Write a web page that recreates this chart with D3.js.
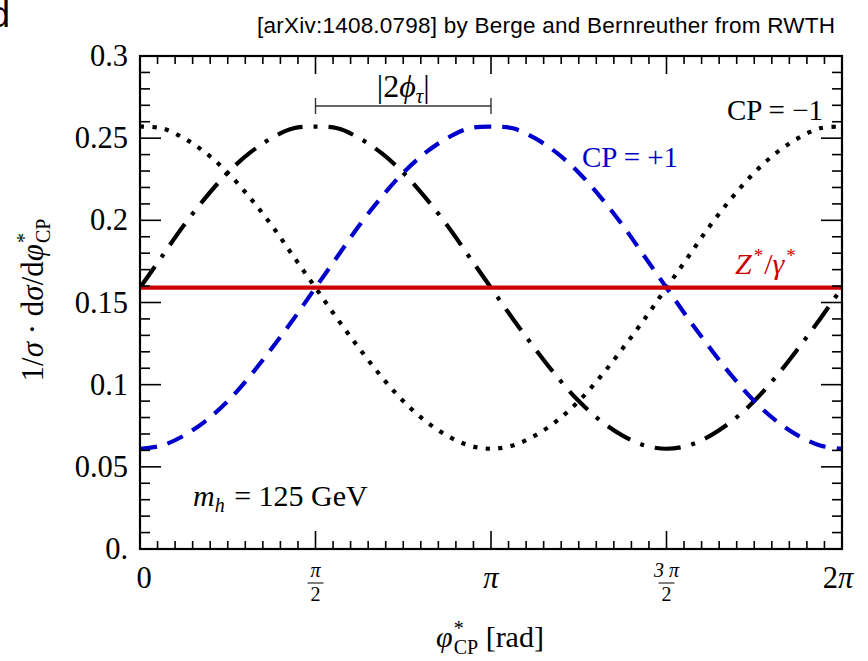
<!DOCTYPE html>
<html>
<head>
<meta charset="utf-8">
<script src="https://cdn.jsdelivr.net/npm/d3@7"></script>
<style>
  html, body { margin: 0; padding: 0; background: #fff; }
  svg { display: block; font-family: "Liberation Serif", "Times New Roman", serif; }
  .sans { font-family: "Liberation Sans", Arial, sans-serif; }
</style>
</head>
<body>
<svg id="chart" width="868" height="661"></svg>
<script>
// Normalised φ*_CP distributions sampled every π/16 on [0, 2π]
const PI = Math.PI;
const sampleCount = 33;
const cpMinus = [0.257, 0.256, 0.250, 0.241, 0.229, 0.214, 0.197, 0.178, 0.159, 0.140, 0.122, 0.105, 0.090, 0.078, 0.069, 0.063, 0.061,
                 0.063, 0.069, 0.078, 0.090, 0.105, 0.122, 0.140, 0.159, 0.178, 0.197, 0.214, 0.229, 0.241, 0.250, 0.256, 0.257];
const cpPlus  = [0.061, 0.063, 0.069, 0.078, 0.090, 0.105, 0.122, 0.140, 0.159, 0.178, 0.197, 0.214, 0.229, 0.241, 0.250, 0.256, 0.257,
                 0.256, 0.250, 0.241, 0.229, 0.214, 0.197, 0.178, 0.159, 0.140, 0.122, 0.105, 0.090, 0.078, 0.069, 0.063, 0.061];
const cpMixed = [0.159, 0.178, 0.197, 0.214, 0.229, 0.241, 0.250, 0.256, 0.257, 0.256, 0.250, 0.241, 0.229, 0.214, 0.197, 0.178, 0.159,
                 0.140, 0.122, 0.105, 0.090, 0.078, 0.069, 0.063, 0.061, 0.063, 0.069, 0.078, 0.090, 0.105, 0.122, 0.140, 0.159];
const zGamma = [0.159, 0.159];
const zGammaX = [0, 2 * PI];

const yTickValues = [0, 0.05, 0.1, 0.15, 0.2, 0.25, 0.3];
const yTickLabels = ["0.", "0.05", "0.1", "0.15", "0.2", "0.25", "0.3"];
const xTickValues = [0, PI / 2, PI, 3 * PI / 2, 2 * PI];
const xTickLabels = [{pre: "0", sym: ""}, {num: "π", den: "2"}, {pre: "", sym: "π"}, {num: "3 π", den: "2"}, {pre: "2", sym: "π"}];

const svg = d3.select("#chart");
const L = 140, R = 842, T = 56, B = 549;
const x = d3.scaleLinear().domain([0, 2 * PI]).range([L, R]);
const y = d3.scaleLinear().domain([0, 0.3]).range([B, T]);
const xs = d3.range(sampleCount).map(k => k * PI / 16);

svg.append("defs").append("clipPath").attr("id", "plot")
  .append("rect").attr("x", L).attr("y", T).attr("width", R - L).attr("height", B - T);

const line = d3.line().x(d => x(d[0])).y(d => y(d[1])).curve(d3.curveCatmullRom.alpha(0.5));
const plot = svg.append("g").attr("clip-path", "url(#plot)");

plot.append("path").datum(d3.zip(xs, cpMixed)).attr("d", line)
  .attr("fill", "none").attr("stroke", "#000").attr("stroke-width", 4.2)
  .attr("stroke-dasharray", "26,11,4,11");
plot.append("path").datum(d3.zip(xs, cpMinus)).attr("d", line)
  .attr("fill", "none").attr("stroke", "#000").attr("stroke-width", 4.2)
  .attr("stroke-dasharray", "4.2,8.3");
plot.append("path").datum(d3.zip(xs, cpPlus)).attr("d", line)
  .attr("fill", "none").attr("stroke", "#0000cc").attr("stroke-width", 4.2)
  .attr("stroke-dasharray", "17,11");
plot.append("path").datum(d3.zip(zGammaX, zGamma)).attr("d", d3.line().x(d => x(d[0])).y(d => y(d[1])))
  .attr("fill", "none").attr("stroke", "#cc0000").attr("stroke-width", 4.2);

// Frame ticks on all four sides, pointing inward
const ax = svg.append("g").attr("stroke", "#000").attr("stroke-width", 1.6);
const yMinor = d3.range(0, 31).map(i => i / 100);
yMinor.forEach((v, i) => {
  const len = i % 5 === 0 ? 21 : 10;
  ax.append("line").attr("x1", L).attr("x2", L + len).attr("y1", y(v)).attr("y2", y(v));
  ax.append("line").attr("x1", R).attr("x2", R - len).attr("y1", y(v)).attr("y2", y(v));
});
const xMinor = d3.range(0, 41).map(i => i * PI / 20);
xMinor.forEach((v, i) => {
  const len = i % 10 === 0 ? 18 : 8;
  ax.append("line").attr("x1", x(v)).attr("x2", x(v)).attr("y1", B).attr("y2", B - len);
  ax.append("line").attr("x1", x(v)).attr("x2", x(v)).attr("y1", T).attr("y2", T + len);
});
svg.append("rect").attr("x", L).attr("y", T).attr("width", R - L).attr("height", B - T)
  .attr("fill", "none").attr("stroke", "#000").attr("stroke-width", 2.2);

// Tick labels
svg.append("g").selectAll("text").data(yTickValues).join("text")
  .attr("x", 128).attr("y", d => y(d) + 10).attr("text-anchor", "end")
  .attr("font-size", 30.5).text((d, i) => yTickLabels[i]);

const xl = svg.append("g");
xTickValues.forEach((v, i) => {
  const lab = xTickLabels[i];
  const cx = x(v) + (i === 0 ? 4 : 0) - (i === 4 ? 4 : 0);
  if (lab.den === undefined) {
    const t = xl.append("text").attr("x", cx).attr("y", 588).attr("text-anchor", "middle").attr("font-size", 30.5);
    if (lab.pre) t.append("tspan").text(lab.pre);
    if (lab.sym) t.append("tspan").attr("font-style", "italic").text(lab.sym);
  } else {
    xl.append("text").attr("x", cx).attr("y", 577).attr("text-anchor", "middle")
      .attr("font-size", 20).attr("font-style", "italic").text(lab.num);
    xl.append("line").attr("x1", cx - 8).attr("x2", cx + 8).attr("y1", 583).attr("y2", 583)
      .attr("stroke", "#000").attr("stroke-width", 1);
    xl.append("text").attr("x", cx).attr("y", 601).attr("text-anchor", "middle")
      .attr("font-size", 20).text(lab.den);
  }
});

// Axis titles
const xt = svg.append("text").attr("x", 490).attr("y", 647).attr("text-anchor", "middle").attr("font-size", 30);
xt.append("tspan").attr("font-style", "italic").text("φ");
xt.append("tspan").attr("font-size", 20).attr("dy", -12).attr("dx", 1).text("*");
xt.append("tspan").attr("font-size", 20).attr("dy", 19).attr("dx", -10).text("CP");
xt.append("tspan").attr("dy", -7).text(" [rad]");

const yt = svg.append("text").attr("transform", "translate(43,300) rotate(-90)")
  .attr("text-anchor", "middle").attr("font-size", 31);
yt.append("tspan").text("1/");
yt.append("tspan").attr("font-style", "italic").text("σ");
yt.append("tspan").text(" · d");
yt.append("tspan").attr("font-style", "italic").text("σ");
yt.append("tspan").text("/d");
yt.append("tspan").attr("font-style", "italic").text("φ");
yt.append("tspan").attr("font-size", 20).attr("dy", -12).attr("dx", 1).text("*");
yt.append("tspan").attr("font-size", 20).attr("dy", 19).attr("dx", -10).text("CP");

// Annotations
svg.append("text").attr("class", "sans").attr("x", 10).attr("y", 27).attr("text-anchor", "end")
  .attr("font-size", 36).text("d");
svg.append("text").attr("class", "sans").attr("x", 835).attr("y", 33).attr("text-anchor", "end")
  .attr("font-size", 22.5).attr("textLength", 578).attr("lengthAdjust", "spacing")
  .text("[arXiv:1408.0798] by Berge and Bernreuther from RWTH");

const phiBracket = [PI / 2, PI];
const br = svg.append("g").attr("stroke", "#333").attr("stroke-width", 1.4);
br.append("line").attr("x1", x(phiBracket[0])).attr("x2", x(phiBracket[1])).attr("y1", 106).attr("y2", 106);
br.append("line").attr("x1", x(phiBracket[0])).attr("x2", x(phiBracket[0])).attr("y1", 98).attr("y2", 114);
br.append("line").attr("x1", x(phiBracket[1])).attr("x2", x(phiBracket[1])).attr("y1", 98).attr("y2", 114);
const ph = svg.append("text").attr("x", x((phiBracket[0] + phiBracket[1]) / 2)).attr("y", 97)
  .attr("text-anchor", "middle").attr("font-size", 32);
ph.append("tspan").text("|2");
ph.append("tspan").attr("font-style", "italic").text("ϕ");
ph.append("tspan").attr("font-style", "italic").attr("font-size", 21).attr("dy", 6).text("τ");
ph.append("tspan").attr("dy", -6).text("|");

svg.append("text").attr("x", 823).attr("y", 120).attr("text-anchor", "end").attr("font-size", 29)
  .text("CP = −1");
svg.append("text").attr("x", 582).attr("y", 167).attr("font-size", 29).attr("fill", "#0000cc")
  .text("CP = +1");
const zt = svg.append("text").attr("x", 735).attr("y", 274).attr("font-size", 30)
  .attr("fill", "#cc0000").attr("font-style", "italic");
zt.append("tspan").text("Z");
zt.append("tspan").attr("font-size", 19).attr("dy", -12).attr("dx", 2).attr("font-style", "normal").text("*");
zt.append("tspan").attr("dy", 12).attr("dx", 1).attr("font-style", "normal").text("/");
zt.append("tspan").text("γ");
zt.append("tspan").attr("font-size", 19).attr("dy", -12).attr("dx", 2).attr("font-style", "normal").text("*");

const mh = svg.append("text").attr("x", 193).attr("y", 506).attr("font-size", 30);
mh.append("tspan").attr("font-style", "italic").text("m");
mh.append("tspan").attr("font-style", "italic").attr("font-size", 20).attr("dy", 6).text("h");
mh.append("tspan").attr("dy", -6).attr("dx", 2).text(" = 125 GeV");
</script>
</body>
</html>
